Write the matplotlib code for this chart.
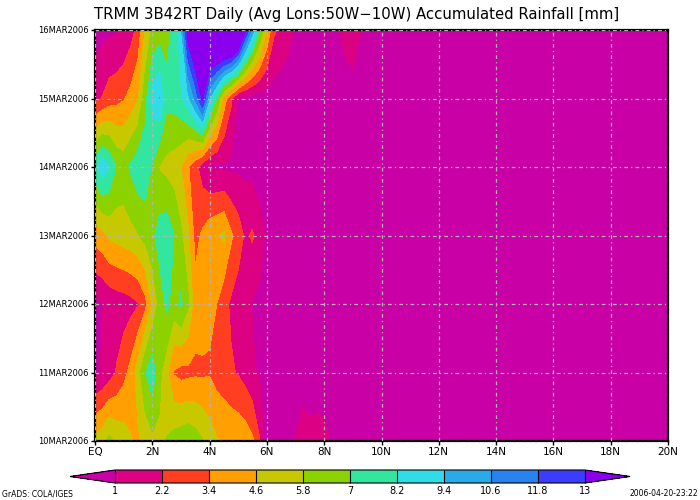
import numpy as np
import matplotlib
matplotlib.use("Agg")
import matplotlib.pyplot as plt
from matplotlib.colors import ListedColormap

# ---------------- data ----------------
lats = [0, 0.25, 0.5, 0.75, 1, 1.25, 1.5, 1.75, 2, 2.25, 2.5, 2.75, 3, 3.25, 3.5, 3.75,
        4, 4.25, 4.5, 4.75, 5, 5.25, 5.5, 5.75, 6, 6.25, 6.5, 6.75, 7, 7.25, 7.5, 7.75,
        8, 8.25, 8.5, 8.75, 9, 9.25, 9.5, 9.75, 10, 11, 12, 13, 14, 15, 16, 17, 18, 19, 20]
days = [10, 11, 12, 13, 14, 15, 16]
day_labels = ["10MAR2006", "11MAR2006", "12MAR2006", "13MAR2006",
              "14MAR2006", "15MAR2006", "16MAR2006"]

rain_10mar = [5.0, 5.4, 6.2, 5.5, 5.2, 4.7, 4.4, 5.0, 5.5, 5.6, 5.85, 6.3, 6.5, 6.7, 6.4, 5.9,
              5.2, 4.7, 4.5, 4.4, 4.3, 4.1, 3.6, 2.25, 0.2, 0.4, 0.5, 0.8, 1.05, 1.55, 1.3, 1.4,
              1.3, 0.95, 0.7, 0.5, 0.4, 0.4, 0.4, 0.4, 0.4, 0.4, 0.3, 0.3, 0.3, 0.3, 0.3, 0.3, 0.3, 0.3, 0.3]
rain_11mar = [0.8, 1.1, 1.6, 2.3, 3.0, 3.8, 5.2, 6.9, 7.8, 6.1, 5.0, 3.3, 3.0, 3.1, 3.2, 3.2,
              3.3, 2.9, 2.7, 2.35, 2.1, 1.7, 1.15, 0.85, 0.6, 0.5, 0.5, 0.4, 0.4, 0.4, 0.4, 0.4,
              0.4, 0.4, 0.4, 0.4, 0.4, 0.4, 0.4, 0.4, 0.4, 0.3, 0.3, 0.3, 0.3, 0.3, 0.3, 0.3, 0.3, 0.3, 0.3]
rain_12mar = [0.7, 0.95, 1.3, 1.5, 1.6, 1.8, 2.1, 3.0, 4.7, 6.2, 7.3, 6.5, 7.2, 6.0, 3.9, 4.0,
              3.6, 3.4, 2.6, 2.0, 1.6, 1.2, 0.95, 0.8, 0.6, 0.5, 0.4, 0.4, 0.4, 0.4, 0.4, 0.4,
              0.4, 0.4, 0.4, 0.4, 0.4, 0.4, 0.4, 0.4, 0.4, 0.3, 0.3, 0.3, 0.3, 0.3, 0.3, 0.3, 0.3, 0.3, 0.3]
rain_13mar = [3.9, 4.2, 4.8, 5.0, 5.2, 5.4, 5.7, 6.2, 6.7, 7.6, 7.8, 7.05, 6.0, 4.8, 3.0, 3.6,
              4.2, 4.5, 4.8, 3.6, 2.8, 2.0, 2.35, 1.4, 0.8, 0.6, 0.5, 0.4, 0.4, 0.4, 0.4, 0.4,
              0.4, 0.4, 0.4, 0.4, 0.4, 0.4, 0.4, 0.4, 0.4, 0.3, 0.3, 0.3, 0.3, 0.3, 0.3, 0.3, 0.3, 0.3, 0.3]
rain_14mar = [7.8, 9.0, 8.25, 6.9, 6.5, 7.2, 7.8, 7.8, 6.9, 5.7, 5.4, 5.2, 4.65, 3.5, 2.6, 1.6,
              0.95, 0.8, 0.8, 0.8, 0.8, 0.7, 0.6, 0.5, 0.4, 0.4, 0.4, 0.4, 0.4, 0.4, 0.4, 0.4,
              0.4, 0.4, 0.4, 0.4, 0.4, 0.4, 0.4, 0.4, 0.4, 0.3, 0.3, 0.3, 0.3, 0.3, 0.3, 0.3, 0.3, 0.3, 0.3]
rain_15mar = [1.9, 2.25, 2.8, 3.0, 3.3, 3.8, 4.5, 6.5, 8.7, 9.45, 7.4, 7.5, 8.0, 9.0, 10.8, 13.3,
              9.3, 7.05, 4.0, 2.4, 0.9, 0.6, 0.5, 0.4, 0.4, 0.4, 0.4, 0.4, 0.4, 0.4, 0.4, 0.4,
              0.4, 0.4, 0.3, 0.3, 0.3, 0.3, 0.3, 0.4, 0.4, 0.3, 0.3, 0.3, 0.3, 0.3, 0.3, 0.3, 0.3, 0.3, 0.3]
rain_16mar = [0.5, 0.6, 0.8, 0.85, 1.1, 1.7, 2.6, 4.7, 6.0, 6.3, 6.6, 7.25, 9.0, 14.0, 16.0, 17.0,
              18.0, 19.0, 20.0, 20.0, 18.0, 13.3, 10.0, 7.1, 4.5, 2.4, 1.8, 1.3, 0.9, 0.6, 0.5, 0.5,
              0.5, 0.6, 0.9, 1.5, 1.9, 1.05, 0.6, 0.5, 0.5, 0.4, 0.4, 0.4, 0.4, 0.4, 0.4, 0.4, 0.4, 0.4, 0.4]

levels = [1, 2.2, 3.4, 4.6, 5.8, 7, 8.2, 9.4, 10.6, 11.8, 13]
level_labels = ["1", "2.2", "3.4", "4.6", "5.8", "7", "8.2", "9.4", "10.6", "11.8", "13"]
color_under = '#C800A6'
colors = ['#DC0082', '#FF3E22', '#FFA000', '#C8C800', '#8CD200',
          '#32E6A0', '#32DCE6', '#2AAAE6', '#2882F0', '#3C3CFF']
color_over = '#8A00EE'
xtick_vals = [0, 2, 4, 6, 8, 10, 12, 14, 16, 18, 20]
xtick_labels = ["EQ", "2N", "4N", "6N", "8N", "10N", "12N", "14N", "16N", "18N", "20N"]

# ---------------- figure ----------------
fig = plt.figure(figsize=(7, 5), dpi=100)
ax = fig.add_axes([95/700, 1-441/500, 573/700, 411/500])

Z = np.array([rain_10mar, rain_11mar, rain_12mar, rain_13mar,
              rain_14mar, rain_15mar, rain_16mar])
X, Y = np.meshgrid(lats, days)
cmap = ListedColormap(colors)
cmap.set_under(color_under)
cmap.set_over(color_over)
cf = ax.contourf(X, Y, Z, levels=levels, cmap=cmap, extend='both', antialiased=False)

ax.set_xlim(0, 20)
ax.set_ylim(10, 16)
ax.set_xticks(xtick_vals)
ax.set_xticklabels(xtick_labels, fontsize=7.5)
ax.set_yticks(days)
ax.set_yticklabels(day_labels, fontsize=6)
ax.tick_params(direction='out', length=3, width=1, pad=1.5)
for s in ax.spines.values():
    s.set_linewidth(1.6)
ax.grid(True, color='#B4B4B4', linewidth=0.9, linestyle=(0, (3, 2.5, 1, 2.5)))
ax.set_axisbelow(False)

fig.text(357/700, 1-15/500, "TRMM 3B42RT Daily (Avg Lons:50W\u221210W) Accumulated Rainfall [mm]",
         ha='center', va='center', fontsize=10.7)

# colorbar (axes spans triangle tip to triangle tip)
cax = fig.add_axes([70/700, 1-483/500, 560/700, 13/500])
cb = fig.colorbar(cf, cax=cax, orientation='horizontal', extend='both',
                  extendfrac=0.096, drawedges=True, ticks=levels)
cb.ax.set_xticklabels(level_labels, fontsize=7)
cb.ax.tick_params(length=0, pad=2)
cb.outline.set_linewidth(0.8)
cb.dividers.set_linewidth(0.8)

fig.text(2/700, 1-494/500, "GrADS: COLA/IGES", fontsize=5.5, ha='left', va='center')
fig.text(698/700, 1-493/500, "2006-04-20-23:22", fontsize=5.5, ha='right', va='center')

fig.savefig("out.png", dpi=100)
